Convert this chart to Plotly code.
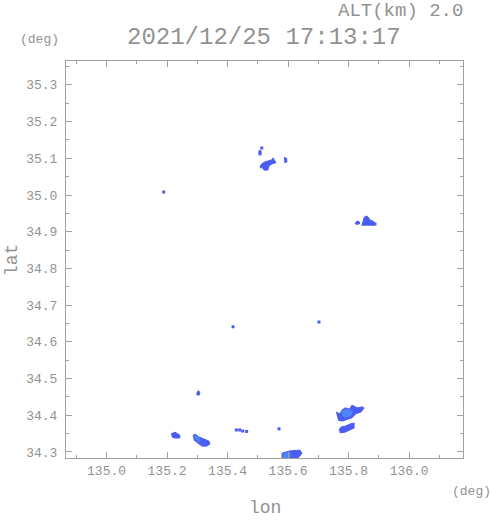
import plotly.graph_objects as go

# ---- data (lon / lat in degrees) ----
# main echo areas (dark blue polygons)
echo_top_lon = [135.507, 135.513, 135.523, 135.533, 135.547, 135.550, 135.556, 135.560, 135.547, 135.537, 135.533, 135.520, 135.517, 135.507]
echo_top_lat = [35.077, 35.085, 35.090, 35.093, 35.096, 35.101, 35.093, 35.088, 35.085, 35.079, 35.068, 35.068, 35.074, 35.074]

echo_topright_lon = [135.586, 135.595, 135.596, 135.588]
echo_topright_lat = [35.102, 35.100, 35.090, 35.088]

echo_east_lon = [135.844, 135.847, 135.851, 135.857, 135.864, 135.871, 135.877, 135.884, 135.884]
echo_east_lat = [34.916, 34.929, 34.938, 34.943, 34.940, 34.932, 34.929, 34.927, 34.916]

echo_east2_lon = [135.821, 135.828, 135.837, 135.835, 135.824]
echo_east2_lat = [34.923, 34.929, 34.926, 34.921, 34.920]

echo_mid_lon = [135.298, 135.300, 135.304, 135.308, 135.306]
echo_mid_lat = [34.455, 34.464, 34.467, 34.462, 34.454]

echo_sw_lon = [135.285, 135.292, 135.305, 135.322, 135.338, 135.342, 135.332, 135.315, 135.302, 135.288]
echo_sw_lat = [34.344, 34.349, 34.341, 34.335, 34.330, 34.322, 34.316, 34.316, 34.325, 34.333]

echo_w_lon = [135.213, 135.226, 135.242, 135.242, 135.226, 135.216]
echo_w_lat = [34.349, 34.354, 34.346, 34.338, 34.338, 34.341]

echo_s_lon = [135.580, 135.580, 135.606, 135.623, 135.639, 135.646, 135.639, 135.626]
echo_s_lat = [34.280, 34.297, 34.303, 34.305, 34.305, 34.297, 34.289, 34.280]

echo_se1_lon = [135.758, 135.771, 135.778, 135.788, 135.804, 135.811, 135.821, 135.831, 135.844, 135.851, 135.841, 135.824, 135.811, 135.791, 135.778, 135.765]
echo_se1_lat = [34.409, 34.404, 34.414, 34.420, 34.417, 34.428, 34.423, 34.420, 34.423, 34.420, 34.409, 34.404, 34.393, 34.387, 34.384, 34.387]

echo_se2_lon = [135.768, 135.775, 135.791, 135.804, 135.818, 135.818, 135.804, 135.788, 135.771]
echo_se2_lat = [34.360, 34.368, 34.371, 34.376, 34.379, 34.365, 34.360, 34.354, 34.352]

# lighter (weaker) patches inside echoes
light_sw_lon = [135.287, 135.293, 135.304, 135.312, 135.306, 135.296]
light_sw_lat = [34.342, 34.347, 34.340, 34.332, 34.326, 34.333]

light_se1_lon = [135.775, 135.790, 135.805, 135.815, 135.808, 135.790, 135.778]
light_se1_lat = [34.410, 34.418, 34.415, 34.410, 34.398, 34.393, 34.398]

light_s_lon = [135.583, 135.583, 135.600, 135.612, 135.605]
light_s_lat = [34.282, 34.296, 34.301, 34.296, 34.282]

# isolated small echoes (single cells)
speck_lon = [135.513, 135.507, 135.507, 135.189, 135.887, 135.418, 135.702, 135.429, 135.440, 135.450, 135.463, 135.570]
speck_lat = [35.128, 35.112, 35.118, 35.008, 34.921, 34.641, 34.654, 34.360, 34.360, 34.357, 34.356, 34.363]

x_ticks = [135.0, 135.2, 135.4, 135.6, 135.8, 136.0]
y_ticks = [34.3, 34.4, 34.5, 34.6, 34.7, 34.8, 34.9, 35.0, 35.1, 35.2, 35.3]

DARK = "#4b5cf2"
LIGHT = "#4f84f7"
GRAY = "#929292"
AXC = "#a0a0a0"
FONT = "Liberation Mono"

fig = go.Figure()

dark_polys = [
    (echo_top_lon, echo_top_lat), (echo_topright_lon, echo_topright_lat),
    (echo_east_lon, echo_east_lat), (echo_east2_lon, echo_east2_lat),
    (echo_mid_lon, echo_mid_lat), (echo_sw_lon, echo_sw_lat),
    (echo_w_lon, echo_w_lat), (echo_s_lon, echo_s_lat),
    (echo_se1_lon, echo_se1_lat), (echo_se2_lon, echo_se2_lat),
]
for lo, la in dark_polys:
    fig.add_trace(go.Scatter(x=lo, y=la, mode="lines", fill="toself",
                             fillcolor=DARK, line=dict(color=DARK, width=1),
                             hoverinfo="skip", showlegend=False))
for lo, la in [(light_sw_lon, light_sw_lat), (light_se1_lon, light_se1_lat), (light_s_lon, light_s_lat)]:
    fig.add_trace(go.Scatter(x=lo, y=la, mode="lines", fill="toself",
                             fillcolor=LIGHT, line=dict(color=LIGHT, width=0),
                             hoverinfo="skip", showlegend=False))
fig.add_trace(go.Scatter(x=speck_lon, y=speck_lat, mode="markers",
                         marker=dict(symbol="square", size=3, color=DARK, line=dict(width=0)),
                         hoverinfo="skip", showlegend=False))

axis_common = dict(
    showgrid=False, zeroline=False, showline=True, linecolor=AXC, linewidth=1,
    mirror="allticks", ticks="inside", ticklen=6, tickcolor=AXC,
    tickfont=dict(family=FONT, size=13, color=GRAY), tickformat=".1f",
)
fig.update_xaxes(range=[134.866, 136.178], tickvals=x_ticks,
                 minor=dict(dtick=0.1, tick0=135.0, ticks="inside", ticklen=3, tickcolor=AXC),
                 **axis_common)
fig.update_yaxes(range=[34.2836, 35.365], tickvals=y_ticks,
                 minor=dict(dtick=0.05, tick0=34.3, ticks="inside", ticklen=3, tickcolor=AXC),
                 ticklabelstandoff=5, **axis_common)

anns = [
    dict(text="2021/12/25 17:13:17", x=264, y=38, size=24),
    dict(text="ALT(km) 2.0", x=400, y=11, size=19),
    dict(text="(deg)", x=39, y=39, size=13),
    dict(text="(deg)", x=471, y=491, size=13),
    dict(text="lon", x=265, y=508, size=18),
]
for a in anns:
    fig.add_annotation(text=a["text"], xref="paper", yref="paper",
                       x=(a["x"] - 66) / 397, y=1 - (a["y"] - 61) / 397,
                       xanchor="center", yanchor="middle", showarrow=False,
                       font=dict(family=FONT, size=a["size"], color=GRAY))
fig.add_annotation(text="lat", xref="paper", yref="paper",
                   x=(12 - 66) / 397, y=1 - (260 - 61) / 397, textangle=-90,
                   xanchor="center", yanchor="middle", showarrow=False,
                   font=dict(family=FONT, size=18, color=GRAY))

fig.update_layout(
    width=491, height=521, margin=dict(l=66, r=28, t=61, b=63),
    paper_bgcolor="white", plot_bgcolor="white",
)
fig.write_html("out.html", config={"displayModeBar": False},
               post_script="document.body.style.margin='0px';document.body.style.overflow='hidden';")
